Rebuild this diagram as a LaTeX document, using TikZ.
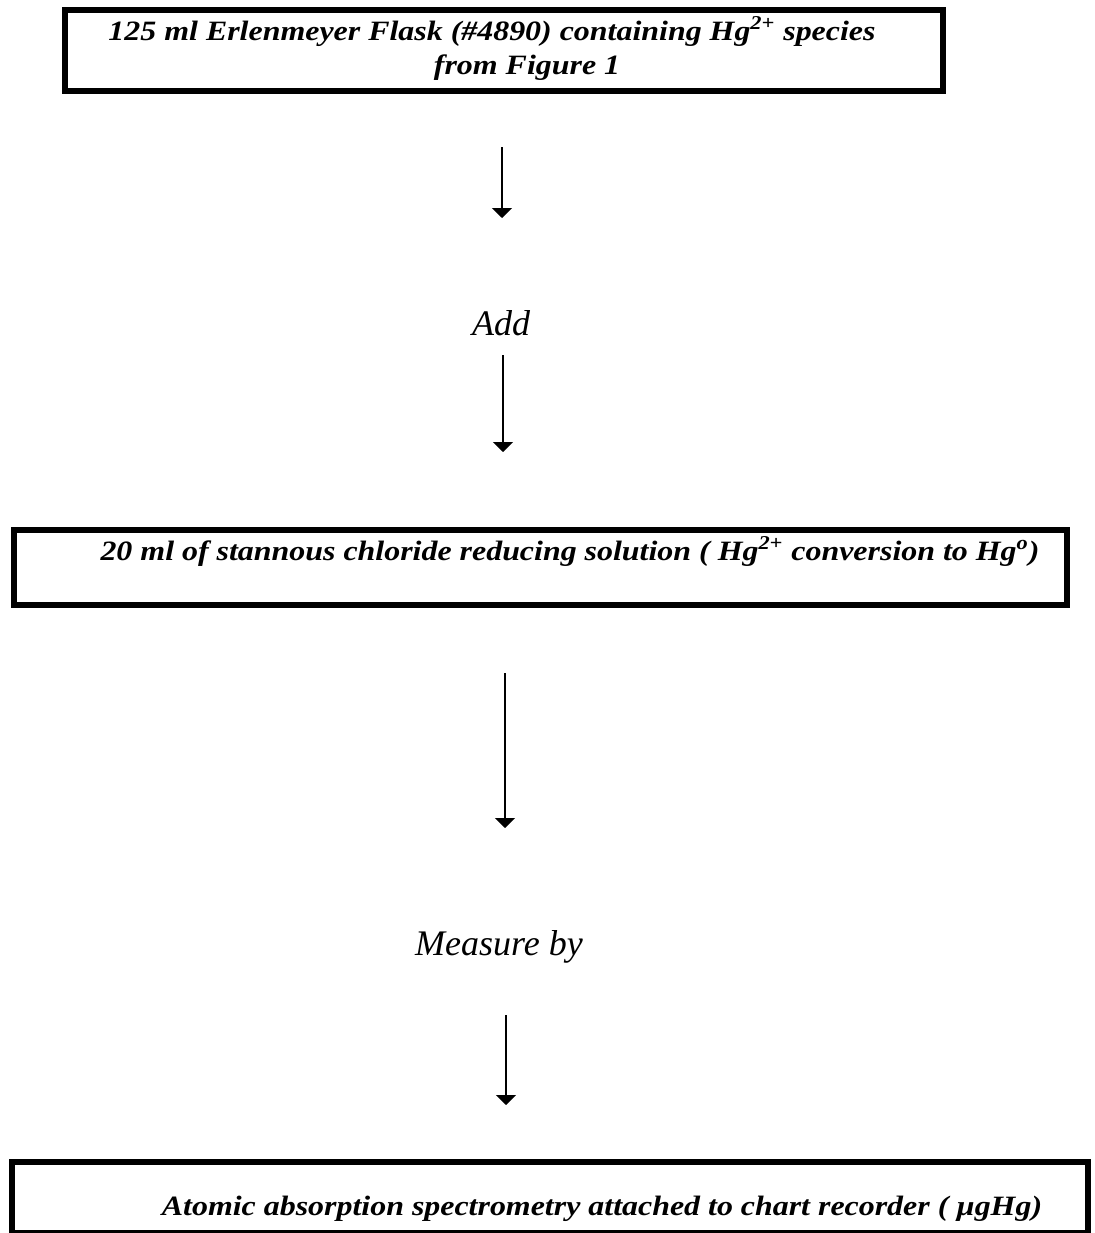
\documentclass[tikz,border=0pt]{standalone}
\usepackage{fontspec}
\setmainfont{Liberation Serif}
\newfontfamily\boxfont[FakeStretch=1.14]{Liberation Serif}
\usetikzlibrary{arrows.meta}
\begin{document}
\begin{tikzpicture}[x=0.5pt,y=-0.5pt,
  boxframe/.style={draw, line width=2.6pt, inner sep=0pt},
  boxtext/.style={font=\boxfont\fontsize{14}{16}\selectfont\bfseries\itshape, inner sep=0pt, anchor=base},
  steplabel/.style={font=\fontsize{18}{20}\selectfont\itshape, inner sep=0pt, anchor=base},
  flowarrow/.style={line width=1pt, -{Triangle[width=10pt,length=5pt]}}]
\useasboundingbox (0,0) rectangle (1095,1233);
% boxes
\node (box1) [boxframe, minimum width=439pt, minimum height=40.5pt] at (504,50.5) {};
\node (box2) [boxframe, minimum width=526.5pt, minimum height=37.5pt] at (540.5,567.5) {};
\node (box3) [boxframe, minimum width=538pt, minimum height=35.5pt] at (550,1197.5) {};
% box texts
\node (t1a) [boxtext] at (492,40) {125 ml Erlenmeyer Flask (\#4890) containing Hg\textsuperscript{2+} species};
\node (t1b) [boxtext] at (527,74) {from Figure 1};
\node (t2) [boxtext] at (570,560) {20 ml of stannous chloride reducing solution ( Hg\textsuperscript{2+} conversion to Hg\textsuperscript{o})};
\node (t3) [boxtext] at (602,1215) {Atomic absorption spectrometry attached to chart recorder ( µgHg)};
% step labels
\node (add) [steplabel] at (501,335) {Add};
\node (measure) [steplabel] at (499,955) {Measure by};
% arrow ends
\coordinate (a1s) at (502,147); \coordinate (a1e) at (502,218);
\coordinate (a2s) at (503,355); \coordinate (a2e) at (503,452);
\coordinate (a3s) at (505,673); \coordinate (a3e) at (505,828);
\coordinate (a4s) at (506,1015); \coordinate (a4e) at (506,1105);
\draw[flowarrow] (a1s) -- (a1e);
\draw[flowarrow] (a2s) -- (a2e);
\draw[flowarrow] (a3s) -- (a3e);
\draw[flowarrow] (a4s) -- (a4e);
\end{tikzpicture}
\end{document}
